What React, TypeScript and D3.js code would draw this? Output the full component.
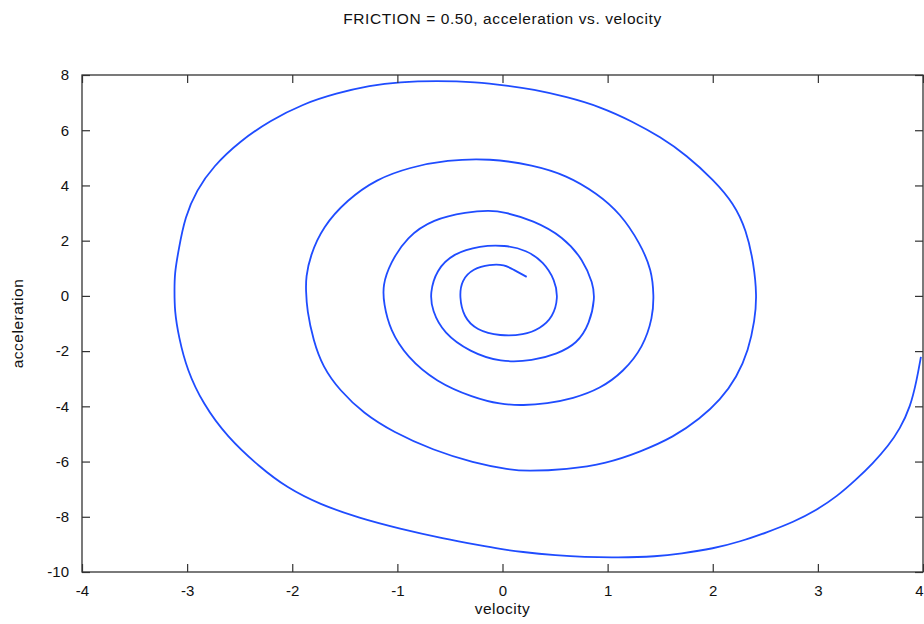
import React, { useEffect, useRef } from "react";
import * as d3 from "d3";

const title = "FRICTION = 0.50, acceleration vs. velocity";
const xLabel = "velocity";
const yLabel = "acceleration";

const xTicks = [-4, -3, -2, -1, 0, 1, 2, 3, 4];
const yTicks = [-10, -8, -6, -4, -2, 0, 2, 4, 6, 8];

const velocity = [
  3.98, 3.94, 3.88, 3.78, 3.67, 3.52, 3.37, 3.18, 2.99, 2.77, 2.51, 2.26, 2.01, 1.69, 1.47, 1.09, 0.77, 0.52, 0.17, -0.02,
  -0.21, -0.56, -0.98, -1.36, -1.74, -2.05, -2.31, -2.62, -2.85, -3.0, -3.08, -3.12, -3.12,
  -3.12, -3.08, -3.02, -2.91, -2.75, -2.5, -2.21, -1.9, -1.58, -1.26, -0.98, -0.63, -0.25, 0.04,
  0.29, 0.61, 0.93, 1.24, 1.5, 1.75, 2.01, 2.2, 2.32, 2.39, 2.42,
  2.4, 2.34, 2.23, 2.07, 1.88, 1.63, 1.31, 0.99, 0.61, 0.23, 0.07,
  -0.28, -0.66, -1.04, -1.32, -1.55, -1.71, -1.8, -1.86, -1.87,
  -1.87, -1.83, -1.71, -1.48, -1.2, -0.88, -0.53, -0.12,
  0.29, 0.61, 0.9, 1.12, 1.31, 1.42, 1.44,
  1.43, 1.34, 1.15, 0.93, 0.67, 0.42, 0.2, -0.02,
  -0.28, -0.63, -0.91, -1.07, -1.13,
  -1.14, -1.07, -0.91, -0.66, -0.34, -0.12,
  0.02, 0.29, 0.58, 0.77, 0.86, 0.88,
  0.83, 0.71, 0.52, 0.29, -0.02,
  -0.31, -0.56, -0.67, -0.69,
  -0.63, -0.47, -0.21, 0.02,
  0.23, 0.39, 0.5, 0.53,
  0.48, 0.36, 0.2, -0.02,
  -0.25, -0.37, -0.41,
  -0.39, -0.28, -0.12, 0.02, 0.1, 0.23,
];

const acceleration = [
  -2.21, -3.06, -4.02, -4.82, -5.43, -6.08, -6.63, -7.27, -7.75, -8.19, -8.57, -8.9, -9.15, -9.34, -9.44, -9.48, -9.46, -9.4, -9.27, -9.17,
  -9.04, -8.79, -8.43, -8.05, -7.55, -6.95, -6.2, -5.11, -3.9, -2.69, -1.49, -0.52, 0.21,
  0.79, 1.7, 2.86, 3.83, 4.7, 5.6, 6.35, 6.95, 7.34, 7.62, 7.75, 7.79, 7.75, 7.62,
  7.48, 7.21, 6.85, 6.31, 5.76, 5.1, 4.19, 3.35, 2.38, 1.17, -0.01,
  -0.88, -1.97, -2.94, -3.78, -4.44, -5.11, -5.65, -6.07, -6.29, -6.35, -6.3,
  -6.04, -5.59, -4.93, -4.26, -3.42, -2.57, -1.61, -0.52, 0.21,
  0.67, 1.45, 2.5, 3.47, 4.23, 4.66, 4.92, 4.98,
  4.74, 4.37, 3.71, 2.99, 1.9, 0.93, -0.01,
  -0.76, -1.85, -2.75, -3.36, -3.72, -3.9, -3.97, -3.93,
  -3.68, -3.12, -2.21, -1.24, -0.28,
  0.39, 1.17, 2.14, 2.78, 3.04, 3.1,
  3.03, 2.74, 2.14, 1.29, 0.45, -0.08,
  -1.0, -1.73, -2.1, -2.35, -2.41,
  -2.03, -1.36, -0.52, 0.1,
  0.93, 1.54, 1.82, 1.84,
  1.66, 1.23, 0.57, -0.08,
  -0.76, -1.18, -1.42, -1.46,
  -1.24, -0.76, -0.04,
  0.57, 0.99, 1.14, 1.13, 0.96, 0.69,
];

const App = () => {
  const svgRef = useRef<SVGSVGElement>(null);

  useEffect(() => {
    document.body.style.margin = "0";
    const width = 924,
      height = 624;
    const left = 82,
      right = 923,
      top = 75,
      bottom = 572;
    const axisColor = "#333",
      lineColor = "#1f4cff",
      font = "'Liberation Sans', Arial, Helvetica, sans-serif";

    const svg = d3
      .select(svgRef.current)
      .attr("width", width)
      .attr("height", height)
      .style("display", "block")
      .style("background", "#fff")
      .html("");

    const x = d3.scaleLinear().domain([-4, 4]).range([left, right]);
    const y = d3.scaleLinear().domain([-10, 8]).range([bottom, top]);

    // clip the curve to the plot frame
    svg
      .append("defs")
      .append("clipPath")
      .attr("id", "plot-clip")
      .append("rect")
      .attr("x", left)
      .attr("y", top)
      .attr("width", right - left)
      .attr("height", bottom - top);

    const points = velocity.map((v, i) => [v, acceleration[i]] as [number, number]);

    const line = d3
      .line<[number, number]>()
      .x((d) => x(d[0]))
      .y((d) => y(d[1]))
      .curve(d3.curveBasis);

    svg
      .append("path")
      .datum(points)
      .attr("clip-path", "url(#plot-clip)")
      .attr("d", line)
      .attr("fill", "none")
      .attr("stroke", lineColor)
      .attr("stroke-width", 1.8);

    // ticks on all four sides, pointing inward
    const styleAxis = (g) => {
      g.select(".domain").remove();
      g.selectAll("line").attr("stroke", axisColor).attr("stroke-width", 1.2);
      g.selectAll("text")
        .attr("fill", "#111")
        .style("font-family", font)
        .style("font-size", "15px");
    };

    const label = (d) => String(d);

    const xAxis = svg
      .append("g")
      .attr("transform", `translate(0,${bottom})`)
      .call(d3.axisBottom(x).tickValues(xTicks).tickSize(-8).tickPadding(13).tickFormat(label))
      .call(styleAxis);
    // last label sits on the window edge: keep it inside
    xAxis
      .selectAll("text")
      .filter((d) => d === 4)
      .attr("text-anchor", "end");

    svg
      .append("g")
      .attr("transform", `translate(0,${top})`)
      .call(d3.axisTop(x).tickValues(xTicks).tickSize(-8).tickFormat(() => ""))
      .call(styleAxis);

    svg
      .append("g")
      .attr("transform", `translate(${left},0)`)
      .call(d3.axisLeft(y).tickValues(yTicks).tickSize(-8).tickPadding(13).tickFormat(label))
      .call(styleAxis);

    svg
      .append("g")
      .attr("transform", `translate(${right},0)`)
      .call(d3.axisRight(y).tickValues(yTicks).tickSize(-8).tickFormat(() => ""))
      .call(styleAxis);

    // frame
    svg
      .append("rect")
      .attr("x", left)
      .attr("y", top)
      .attr("width", right - left)
      .attr("height", bottom - top)
      .attr("fill", "none")
      .attr("stroke", axisColor)
      .attr("stroke-width", 1.3);

    svg
      .append("text")
      .attr("x", (left + right) / 2)
      .attr("y", 24)
      .attr("text-anchor", "middle")
      .style("font-family", font)
      .style("font-size", "15.5px")
      .style("letter-spacing", "0.6px")
      .attr("fill", "#111")
      .text(title);

    svg
      .append("text")
      .attr("x", (left + right) / 2)
      .attr("y", 614)
      .attr("text-anchor", "middle")
      .style("font-family", font)
      .style("font-size", "15.5px")
      .style("letter-spacing", "0.5px")
      .attr("fill", "#111")
      .text(xLabel);

    svg
      .append("text")
      .attr("transform", `translate(23,${(top + bottom) / 2}) rotate(-90)`)
      .attr("text-anchor", "middle")
      .style("font-family", font)
      .style("font-size", "15.5px")
      .style("letter-spacing", "0.5px")
      .attr("fill", "#111")
      .text(yLabel);
  }, []);

  return <svg ref={svgRef}></svg>;
};

export default App;
